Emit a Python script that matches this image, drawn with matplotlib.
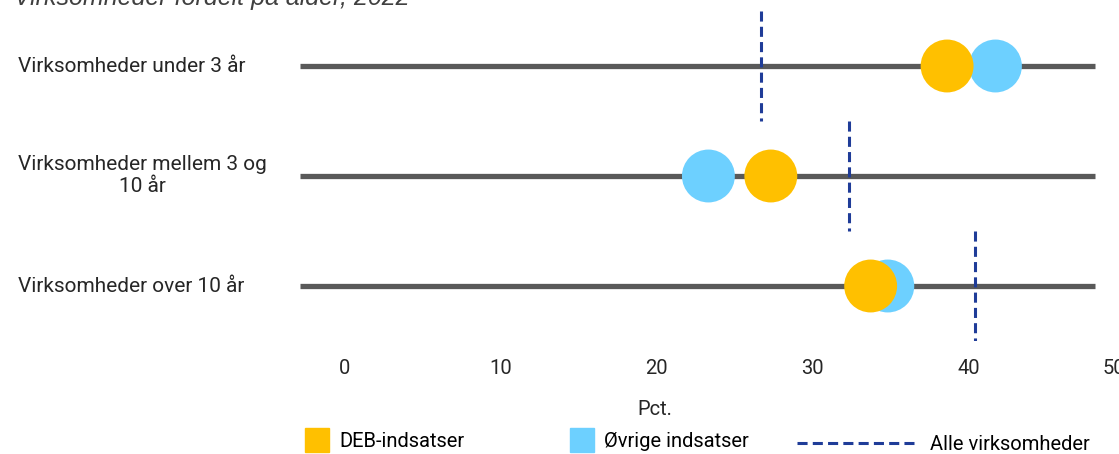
import numpy as np
import matplotlib
matplotlib.use('Agg')
import matplotlib.pyplot as plt
import matplotlib.transforms as mtransforms
from matplotlib.patches import Patch
from matplotlib.lines import Line2D

plt.rcParams['font.family'] = ['Roboto', 'DejaVu Sans']

categories = ['Virksomheder under 3 år', 'Virksomheder mellem 3 og\n10 år', 'Virksomheder over 10 år']
deb = [38.6, 27.3, 33.7]
ovrige = [41.7, 23.3, 34.8]
alle = [26.7, 32.3, 40.4]
ticks = [0, 10, 20, 30, 40, 50]

W, H = 1119, 454
fig = plt.figure(figsize=(W / 100, H / 100), dpi=100)

# axes placed in pixel terms: x from -2.88 (px 300) at 15.6 px per unit, rows 110 px apart
x0, ppu = 300, 15.6
xmin, xmax = -2.88, 50.4
left = x0 / W
width = (xmax - xmin) * ppu / W
top_px, bot_px = 11, 341
ax = fig.add_axes([left, 1 - bot_px / H, width, (bot_px - top_px) / H])
ax.set_xlim(xmin, xmax)
ax.set_ylim(2.5, -0.5)

dash = (0, (3.3, 1.7))
y = np.arange(len(categories))
ax.hlines(y, xmin, 48.1, color='#595959', lw=3.8, zorder=1)
for i, v in enumerate(alle):
    ax.vlines(v, i - 0.5, i + 0.5, color='#1F3C98', lw=2.2, linestyles=dash, zorder=2)
ax.scatter(ovrige, y, s=1450, color='#6DD0FF', edgecolors='none', zorder=3)
ax.scatter(deb, y, s=1450, color='#FFC000', edgecolors='none', zorder=4)

for s in ax.spines.values():
    s.set_visible(False)
ax.set_xticks(ticks)
ax.set_xticklabels([str(t) for t in ticks], fontsize=14.5, color='#262626')
ax.get_xticklabels()[-1].set_ha('right')
ax.tick_params(axis='x', length=0, pad=13)
ax.set_yticks([])
ax.set_xlabel('Pct.', fontsize=14.5, color='#262626')
ax.xaxis.set_label_coords((655 - x0) / ((xmax - xmin) * ppu), -(400 - bot_px) / (bot_px - top_px))

trans = mtransforms.blended_transform_factory(fig.transFigure, ax.transData)
for i, c in enumerate(categories):
    ax.text(18 / W, i, c, transform=trans, ha='left', va='center',
            multialignment='center', fontsize=15, color='#262626')

fig.text(410 / W, 1 - 5 / H, 'Virksomheder fordelt på alder, 2022', ha='right', va='baseline',
         fontsize=18, style='italic', color='#404040', family=['Liberation Sans', 'DejaVu Sans'])

# legends
leg_kw = dict(frameon=False, fontsize=14.5, borderpad=0, borderaxespad=0)
fig.legend([Patch(color='#FFC000')], ['DEB-indsatser'], loc='center left',
           bbox_to_anchor=(305 / W, 1 - 440 / H), handlelength=1.2, handleheight=1.4,
           handletextpad=0.5, **leg_kw)
fig.legend([Patch(color='#6DD0FF')], ['Øvrige indsatser'], loc='center left',
           bbox_to_anchor=(570 / W, 1 - 440 / H), handlelength=1.2, handleheight=1.4,
           handletextpad=0.5, **leg_kw)
fig.legend([Line2D([0], [0], color='#1F3C98', lw=2.2, ls=dash)], ['Alle virksomheder'],
           loc='center left', bbox_to_anchor=(797 / W, 1 - 445 / H), handlelength=5.8,
           handletextpad=0.8, **leg_kw)

fig.savefig('out.png', dpi=100)
